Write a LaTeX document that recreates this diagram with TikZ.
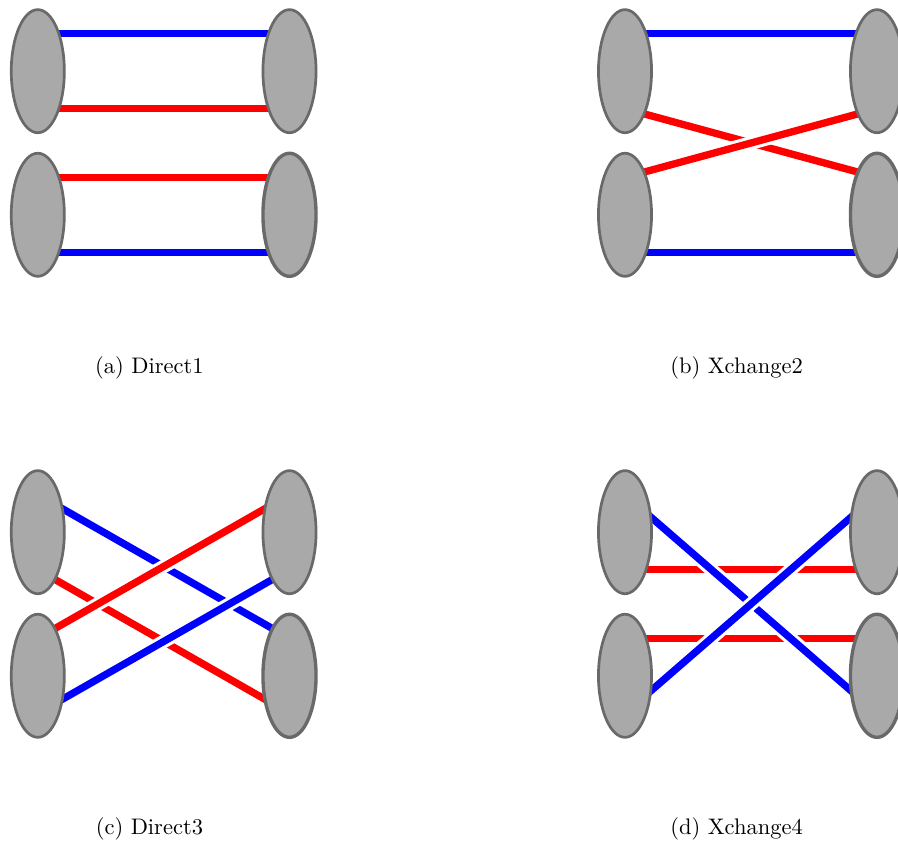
\documentclass[tikz,border=0pt]{standalone}
\usetikzlibrary{shapes.geometric,backgrounds,calc}
\definecolor{nodefill}{HTML}{A9A9A9}
\definecolor{nodeborder}{HTML}{696969}
\tikzstyle{player} = [ellipse, minimum width=23.6pt, minimum height=54.7pt, inner sep=0pt, draw=nodeborder, fill=nodefill, line width=1.2pt]
\tikzstyle{bluelink} = [line width=3.25pt, blue]
\tikzstyle{redlink} = [line width=3.25pt, red]
\tikzstyle{over} = [preaction={draw=white, line width=6pt}]
\tikzstyle{subcap} = [anchor=base]

\begin{document}
\begin{tikzpicture}[x=0.4444pt, y=0.4444pt]
\useasboundingbox (0,0) rectangle (898,841);

% (a) Direct1
\begin{scope}[shift={(37.8,769.8)}]
\node (aL1)[player] at (0,0) {};
\node (aL2)[player] at (0,-143.6) {};
\node (aR1)[player] at (251.7,0) {};
\node (aR2)[player, line width=1.5pt] at (251.7,-143.6) {};
\begin{scope}[on background layer]
\draw [bluelink]($(aL1)+(0,37.5)$) -- ($(aR1)+(0,37.5)$);
\draw [redlink]($(aL1)+(0,-37.5)$) -- ($(aR1)+(0,-37.5)$);
\draw [redlink]($(aL2)+(0,37.5)$) -- ($(aR2)+(0,37.5)$);
\draw [bluelink]($(aL2)+(0,-37.5)$) -- ($(aR2)+(0,-37.5)$);
\end{scope}
\node (acap)[subcap] at (111.6,-302) {(a) Direct1};
\end{scope}

% (b) Xchange2
\begin{scope}[shift={(625,769.8)}]
\node (bL1)[player] at (0,0) {};
\node (bL2)[player] at (0,-143.6) {};
\node (bR1)[player] at (252,0) {};
\node (bR2)[player, line width=1.5pt] at (252,-143.6) {};
\begin{scope}[on background layer]
\draw [bluelink]($(bL1)+(0,37.5)$) -- ($(bR1)+(0,37.5)$);
\draw [bluelink]($(bL2)+(0,-37.5)$) -- ($(bR2)+(0,-37.5)$);
\draw [redlink]($(bL1)+(0,-37.5)$) -- ($(bR2)+(0,37.5)$);
\draw [redlink, over]($(bL2)+(0,37.5)$) -- ($(bR1)+(0,-37.5)$);
\end{scope}
\node (bcap)[subcap] at (111.6,-302) {(b) Xchange2};
\end{scope}

% (c) Direct3
\begin{scope}[shift={(37.8,308.8)}]
\node (cL1)[player] at (0,0) {};
\node (cL2)[player] at (0,-143.6) {};
\node (cR1)[player] at (251.7,0) {};
\node (cR2)[player, line width=1.5pt] at (251.7,-143.6) {};
\begin{scope}[on background layer]
\draw [bluelink]($(cL1)+(0,37.5)$) -- ($(cR2)+(0,37.5)$);
\draw [redlink]($(cL1)+(0,-37.5)$) -- ($(cR2)+(0,-37.5)$);
\draw [redlink, over]($(cL2)+(0,37.5)$) -- ($(cR1)+(0,37.5)$);
\draw [bluelink, over]($(cL2)+(0,-37.5)$) -- ($(cR1)+(0,-37.5)$);
\end{scope}
\node (ccap)[subcap] at (111.6,-302) {(c) Direct3};
\end{scope}

% (d) Xchange4
\begin{scope}[shift={(625,308.8)}]
\node (dL1)[player] at (0,0) {};
\node (dL2)[player] at (0,-143.6) {};
\node (dR1)[player] at (252,0) {};
\node (dR2)[player, line width=1.5pt] at (252,-143.6) {};
\begin{scope}[on background layer]
\draw [redlink]($(dL1)+(0,-37.5)$) -- ($(dR1)+(0,-37.5)$);
\draw [redlink]($(dL2)+(0,37.5)$) -- ($(dR2)+(0,37.5)$);
\draw [bluelink, over]($(dL1)+(0,37.5)$) -- ($(dR2)+(0,-37.5)$);
\draw [bluelink, over]($(dL2)+(0,-37.5)$) -- ($(dR1)+(0,37.5)$);
\end{scope}
\node (dcap)[subcap] at (111.6,-302) {(d) Xchange4};
\end{scope}
\end{tikzpicture}
\end{document}
